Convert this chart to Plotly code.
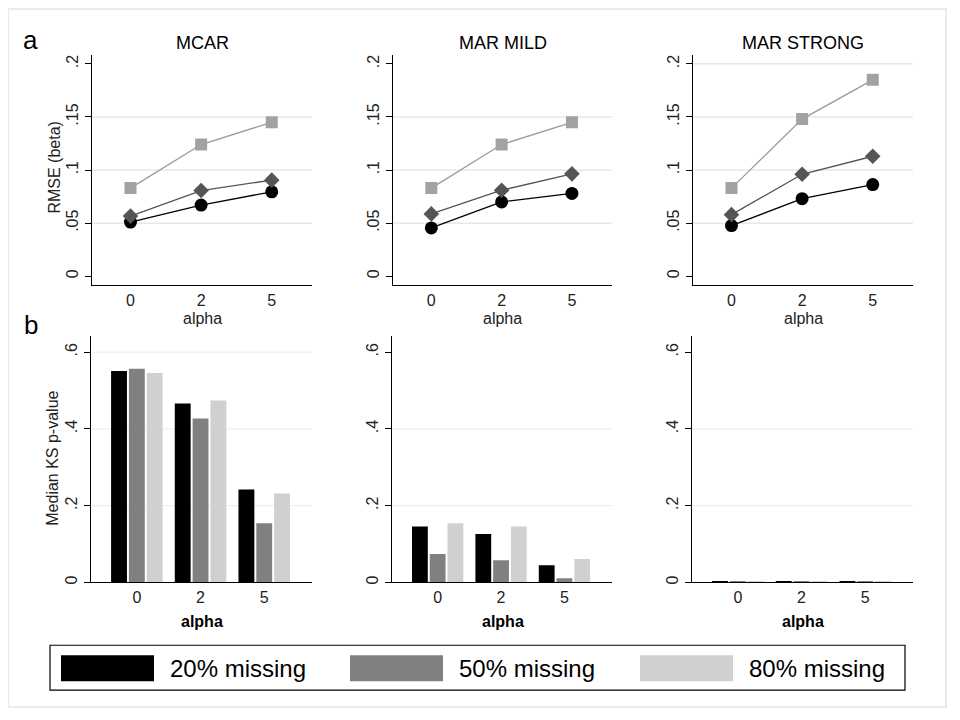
import plotly.graph_objects as go

# ---------------- data ----------------
alpha_labels = ["0", "2", "5"]
alpha_pos = [0, 1, 2]
mechanisms = ["MCAR", "MAR MILD", "MAR STRONG"]
series_names = ["20% missing", "50% missing", "80% missing"]

# RMSE(beta) line panels
rmse_mcar_20 = [0.051, 0.067, 0.0795]
rmse_mcar_50 = [0.0566, 0.0807, 0.0905]
rmse_mcar_80 = [0.083, 0.124, 0.145]
rmse_mild_20 = [0.0455, 0.070, 0.078]
rmse_mild_50 = [0.0587, 0.081, 0.0964]
rmse_mild_80 = [0.083, 0.124, 0.145]
rmse_strong_20 = [0.0477, 0.073, 0.0863]
rmse_strong_50 = [0.058, 0.096, 0.113]
rmse_strong_80 = [0.083, 0.148, 0.185]

# Median KS p-value bar panels
ks_mcar_20 = [0.551, 0.466, 0.242]
ks_mcar_50 = [0.557, 0.427, 0.154]
ks_mcar_80 = [0.546, 0.474, 0.232]
ks_mild_20 = [0.146, 0.126, 0.045]
ks_mild_50 = [0.074, 0.058, 0.011]
ks_mild_80 = [0.154, 0.146, 0.061]
ks_strong_20 = [0.003, 0.003, 0.003]
ks_strong_50 = [0.002, 0.002, 0.002]
ks_strong_80 = [0.001, 0.001, 0.001]

rmse_ticks = [0, 0.05, 0.1, 0.15, 0.2]
rmse_ticktext = ["0", ".05", ".1", ".15", ".2"]
ks_ticks = [0, 0.2, 0.4, 0.6]
ks_ticktext = ["0", ".2", ".4", ".6"]

rmse_data = [
    [rmse_mcar_20, rmse_mcar_50, rmse_mcar_80],
    [rmse_mild_20, rmse_mild_50, rmse_mild_80],
    [rmse_strong_20, rmse_strong_50, rmse_strong_80],
]
ks_data = [
    [ks_mcar_20, ks_mcar_50, ks_mcar_80],
    [ks_mild_20, ks_mild_50, ks_mild_80],
    [ks_strong_20, ks_strong_50, ks_strong_80],
]

# ---------------- styles ----------------
W, H = 960, 720
OFF = 8  # page body margin
FONT = "Liberation Sans, Arial, sans-serif"
bar_colors = ["#000000", "#808080", "#d0d0d0"]
marker_colors = ["#000000", "#555555", "#a2a2a2"]
line_colors = ["#000000", "#555555", "#9a9a9a"]
marker_symbols = ["circle", "diamond", "square"]
marker_sizes = [13, 12, 12]


def X(px):
    return (px - OFF) / W


def Y(py):
    return 1 - (py - OFF) / H


def sfx(n):
    return "" if n == 1 else str(n)


col_px = [(92, 312), (393, 612), (693, 913)]
top_py = (55, 286)
bot_py = (337, 584)

fig = go.Figure()

for c in range(3):
    nt, nb = c + 1, c + 4
    for s in range(3):
        fig.add_trace(go.Scatter(
            x=alpha_pos, y=rmse_data[c][s], mode="lines+markers",
            name=series_names[s], showlegend=False,
            line=dict(color=line_colors[s], width=1.3),
            marker=dict(symbol=marker_symbols[s], size=marker_sizes[s],
                        color=marker_colors[s], line=dict(width=0)),
            xaxis="x" + sfx(nt), yaxis="y" + sfx(nt),
        ))
    for s in range(3):
        fig.add_trace(go.Bar(
            x=alpha_pos, y=ks_data[c][s], name=series_names[s], showlegend=False,
            marker=dict(color=bar_colors[s], line=dict(width=0)),
            xaxis="x" + sfx(nb), yaxis="y" + sfx(nb),
        ))

axis_font = dict(family=FONT, size=16, color="#222222")
xtick_font = dict(family=FONT, size=16, color="#222222")
layout = dict(
    width=W, height=H, margin=dict(l=0, r=0, t=0, b=0),
    paper_bgcolor="white", plot_bgcolor="white",
    barmode="group", bargap=0.16, bargroupgap=0.11,
    font=dict(family=FONT, color="black"),
)

shapes = []
annotations = []
for c in range(3):
    x0, x1 = col_px[c]
    nt, nb = c + 1, c + 4
    layout["xaxis" + sfx(nt)] = dict(
        domain=[X(x0), X(x1)], anchor="y" + sfx(nt), range=[-0.545, 2.57],
        tickvals=alpha_pos, ticktext=alpha_labels, showgrid=False, zeroline=False,
        showline=True, linecolor="black", linewidth=1.3, ticks="",
        tickfont=xtick_font, fixedrange=True,
    )
    layout["yaxis" + sfx(nt)] = dict(
        domain=[Y(top_py[1]), Y(top_py[0])], anchor="x" + sfx(nt),
        range=[-0.0085, 0.2085], tickvals=rmse_ticks, ticktext=rmse_ticktext,
        tickangle=-90, showgrid=False, zeroline=False, showline=True,
        linecolor="black", linewidth=1.3, ticks="outside", ticklen=6,
        tickcolor="black", tickfont=axis_font, fixedrange=True,
    )
    layout["xaxis" + sfx(nb)] = dict(
        domain=[X(x0 - 1), X(x1)], anchor="y" + sfx(nb), range=[-0.72, 2.75],
        tickvals=alpha_pos, ticktext=alpha_labels, showgrid=False, zeroline=False,
        showline=True, linecolor="black", linewidth=1.3, ticks="",
        tickfont=xtick_font, fixedrange=True,
    )
    layout["yaxis" + sfx(nb)] = dict(
        domain=[Y(bot_py[1]), Y(bot_py[0])], anchor="x" + sfx(nb),
        range=[0, 0.642], tickvals=ks_ticks, ticktext=ks_ticktext,
        tickangle=-90, showgrid=False, zeroline=False, showline=True,
        linecolor="black", linewidth=1.3, ticks="outside", ticklen=6,
        tickcolor="black", tickfont=axis_font, fixedrange=True,
    )

    top_grid = [0.05, 0.1, 0.15] + ([0.2] if c == 2 else [])
    for g in top_grid:
        shapes.append(dict(type="line", xref="x" + sfx(nt) + " domain",
                           yref="y" + sfx(nt), x0=0, x1=1, y0=g, y1=g,
                           layer="below", line=dict(color="#dcdcdc", width=1)))
    bot_grid = [0.2, 0.4] + ([0.6] if c == 0 else [])
    for g in bot_grid:
        shapes.append(dict(type="line", xref="x" + sfx(nb) + " domain",
                           yref="y" + sfx(nb), x0=0, x1=1, y0=g, y1=g,
                           layer="below", line=dict(color="#e4ecee", width=1)))

    cx = X((x0 + x1) / 2)
    annotations.append(dict(text=mechanisms[c], x=cx, y=Y(43.5), xref="paper",
                            yref="paper", showarrow=False, xanchor="center",
                            yanchor="middle",
                            font=dict(family=FONT, size=18, color="black")))
    annotations.append(dict(text="alpha", x=cx, y=Y(319), xref="paper",
                            yref="paper", showarrow=False, xanchor="center",
                            yanchor="middle",
                            font=dict(family=FONT, size=16, color="#222222")))
    annotations.append(dict(text="<b>alpha</b>", x=cx, y=Y(623), xref="paper",
                            yref="paper", showarrow=False, xanchor="center",
                            yanchor="middle",
                            font=dict(family=FONT, size=16, color="black")))

annotations.append(dict(text="RMSE (beta)", x=X(55), y=Y(168), xref="paper",
                        yref="paper", showarrow=False, textangle=-90,
                        xanchor="center", yanchor="middle",
                        font=dict(family=FONT, size=16, color="#222222")))
annotations.append(dict(text="Median KS p-value", x=X(53), y=Y(460), xref="paper",
                        yref="paper", showarrow=False, textangle=-90,
                        xanchor="center", yanchor="middle",
                        font=dict(family=FONT, size=16, color="#222222")))
annotations.append(dict(text="a", x=X(30), y=Y(40), xref="paper", yref="paper",
                        showarrow=False, xanchor="center", yanchor="middle",
                        font=dict(family=FONT, size=26, color="black")))
annotations.append(dict(text="b", x=X(31), y=Y(326), xref="paper", yref="paper",
                        showarrow=False, xanchor="center", yanchor="middle",
                        font=dict(family=FONT, size=26, color="black")))

shapes.append(dict(type="rect", xref="paper", yref="paper",
                   x0=X(8), x1=X(946), y0=Y(709), y1=Y(9),
                   line=dict(color="#e6ecee", width=2), layer="below"))
shapes.append(dict(type="rect", xref="paper", yref="paper",
                   x0=X(50), x1=X(905), y0=Y(692), y1=Y(647),
                   line=dict(color="black", width=1.2)))
swatch_left = [61, 350, 640]
for s in range(3):
    sx = swatch_left[s]
    shapes.append(dict(type="rect", xref="paper", yref="paper",
                       x0=X(sx), x1=X(sx + 93), y0=Y(683), y1=Y(657),
                       fillcolor=bar_colors[s], line=dict(width=0)))
    annotations.append(dict(text=series_names[s], x=X(sx + 107), y=Y(670),
                            xref="paper", yref="paper", showarrow=False,
                            xanchor="left", yanchor="middle",
                            font=dict(family=FONT, size=24, color="black")))

layout["shapes"] = shapes
layout["annotations"] = annotations
fig.update_layout(**layout)
fig.write_html("out.html")
